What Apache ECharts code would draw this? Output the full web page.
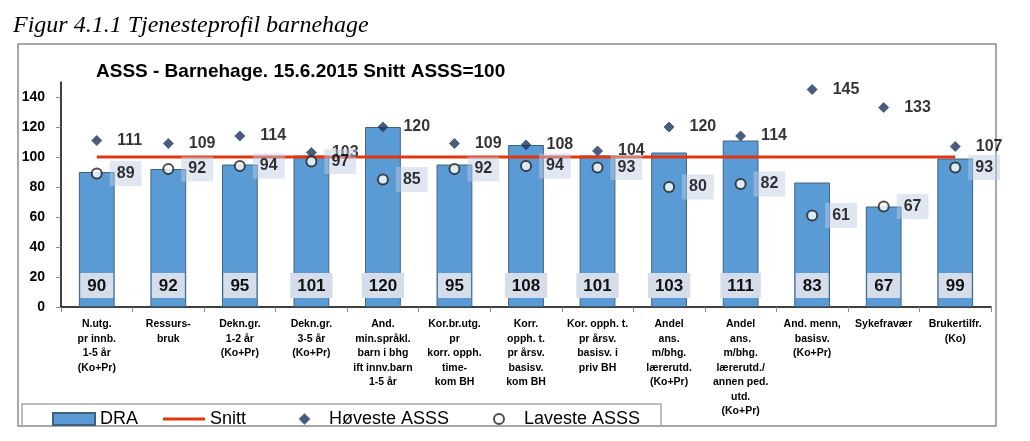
<!DOCTYPE html>
<html><head><meta charset="utf-8">
<script src="https://cdn.jsdelivr.net/npm/echarts@6/dist/echarts.min.js"></script>
<style>html,body{margin:0;padding:0;background:#fff}#c{width:1030px;height:441px}</style>
</head><body><div id="c"></div>
<script>
const categories = [
  'N.utg.\npr innb.\n1-5 år\n(Ko+Pr)',
  'Ressurs-\nbruk',
  'Dekn.gr.\n1-2 år\n(Ko+Pr)',
  'Dekn.gr.\n3-5 år\n(Ko+Pr)',
  'And.\nmin.språkl.\nbarn i bhg\nift innv.barn\n1-5 år',
  'Kor.br.utg.\npr\nkorr. opph.\ntime-\nkom BH',
  'Korr.\nopph. t.\npr årsv.\nbasisv.\nkom BH',
  'Kor. opph. t.\npr årsv.\nbasisv. i\npriv BH',
  'Andel\nans.\nm/bhg.\nlærerutd.\n(Ko+Pr)',
  'Andel\nans.\nm/bhg.\nlærerutd./\nannen ped.\nutd.\n(Ko+Pr)',
  'And. menn,\nbasisv.\n(Ko+Pr)',
  'Sykefravær',
  'Brukertilfr.\n(Ko)'
];
const draValues     = [90, 92, 95, 101, 120, 95, 108, 101, 103, 111, 83, 67, 99];
const snittValues   = [100, 100, 100, 100, 100, 100, 100, 100, 100, 100, 100, 100, 100];
const hoyesteValues = [111, 109, 114, 103, 120, 109, 108, 104, 120, 114, 145, 133, 107];
const lavesteValues = [89, 92, 94, 97, 85, 92, 94, 93, 80, 82, 61, 67, 93];
const yTicks = [0, 20, 40, 60, 80, 100, 120, 140];
const seriesNames = ['DRA', 'Snitt', 'Høveste ASSS', 'Laveste ASSS'];

const SANS = "'Liberation Sans', Arial, sans-serif";
const NARROW = "'Liberation Sans Narrow', 'Arial Narrow', 'Liberation Sans', sans-serif";

const chart = echarts.init(document.getElementById('c'), null, {renderer: 'canvas'});
const legendText = {fontSize: 18, fontFamily: SANS, color: '#000'};
const legendBase = {
  top: 410, itemWidth: 42, itemHeight: 12, padding: 0, itemGap: 0,
  selectedMode: false, textStyle: legendText
};
chart.setOption({
  animation: false,
  backgroundColor: '#fff',
  title: [
    {text: 'Figur 4.1.1 Tjenesteprofil barnehage', left: 13, top: 14, padding: 0,
     textStyle: {fontFamily: "'Liberation Serif', 'Times New Roman', serif", fontStyle: 'italic', fontWeight: 'normal', fontSize: 24, color: '#000'}},
    {text: 'ASSS - Barnehage. 15.6.2015 Snitt ASSS=100', left: 96, top: 62, padding: 0,
     textStyle: {fontFamily: SANS, fontWeight: 'bold', fontSize: 19, color: '#000'}}
  ],
  graphic: [
    {type: 'rect', z: 0, shape: {x: 18, y: 44, width: 978, height: 382},
     style: {fill: 'none', stroke: '#8c8c8c', lineWidth: 1.5}},
    {type: 'rect', z: 0, shape: {x: 22, y: 404, width: 639, height: 22},
     style: {fill: 'none', stroke: '#a6a6a6', lineWidth: 1.5}}
  ],
  legend: [
    Object.assign({}, legendBase, {left: 52, data: [{name: seriesNames[0], icon: 'rect'}]}),
    Object.assign({}, legendBase, {left: 163, itemHeight: 3, data: [{name: seriesNames[1], icon: 'rect'}]}),
    Object.assign({}, legendBase, {left: 299, itemWidth: 9, itemHeight: 9,
      textStyle: Object.assign({}, legendText, {padding: [0, 0, 0, 15]}),
      data: [{name: seriesNames[2], icon: 'diamond'}]}),
    Object.assign({}, legendBase, {left: 493, itemWidth: 10, itemHeight: 10,
      textStyle: Object.assign({}, legendText, {padding: [0, 0, 0, 15]}),
      data: [{name: seriesNames[3], icon: 'circle'}]})
  ],
  grid: {left: 61, right: 39, top: 82, bottom: 134, containLabel: false},
  xAxis: {
    type: 'category', data: categories,
    axisLine: {lineStyle: {color: '#000', width: 1.5}},
    axisTick: {show: true, alignWithLabel: false, length: 5, lineStyle: {color: '#888'}},
    axisLabel: {interval: 0, margin: 10, fontSize: 10.5, fontWeight: 'bold', lineHeight: 14.5, fontFamily: SANS, color: '#000'}
  },
  yAxis: {
    type: 'value', min: 0, max: 150, interval: 10,
    splitLine: {show: false},
    axisLine: {show: true, lineStyle: {color: '#000', width: 1.5}},
    axisTick: {show: true, length: 5, lineStyle: {color: '#888'}, customValues: yTicks},
    axisLabel: {margin: 16, fontSize: 14, fontWeight: 'bold', fontFamily: SANS, color: '#000', customValues: yTicks}
  },
  series: [
    {
      name: seriesNames[0], type: 'bar', data: draValues, barWidth: '50%', z: 2,
      itemStyle: {color: '#5B9BD5', borderColor: '#41627F', borderWidth: 1},
      label: {show: true, position: 'insideBottom', distance: 9,
        backgroundColor: '#D6DDEA', padding: [5, 7, 3, 7],
        fontSize: 17, fontWeight: 'bold', fontFamily: NARROW, color: '#111'}
    },
    {
      name: seriesNames[1], type: 'line', data: snittValues, symbol: 'none', z: 3,
      lineStyle: {color: '#E3360E', width: 3}, itemStyle: {color: '#E3360E'}
    },
    {
      name: seriesNames[2], type: 'scatter', data: hoyesteValues, symbol: 'diamond', symbolSize: 10, z: 4,
      itemStyle: {color: '#1B3358', borderColor: '#34507E', borderWidth: 1},
      label: {show: true, position: 'right', distance: 15,
        fontSize: 16, fontWeight: 'bold', fontFamily: NARROW, color: '#000'}
    },
    {
      name: seriesNames[3], type: 'scatter', data: lavesteValues, symbol: 'circle', symbolSize: 10, z: 5,
      itemStyle: {color: '#fff', borderColor: '#222', borderWidth: 2},
      label: {show: true, position: 'right', distance: 7,
        backgroundColor: 'rgba(190,204,228,0.6)', padding: [5, 7, 4, 7],
        fontSize: 16, fontWeight: 'bold', fontFamily: NARROW, color: '#000'}
    }
  ]
});
</script></body></html>
